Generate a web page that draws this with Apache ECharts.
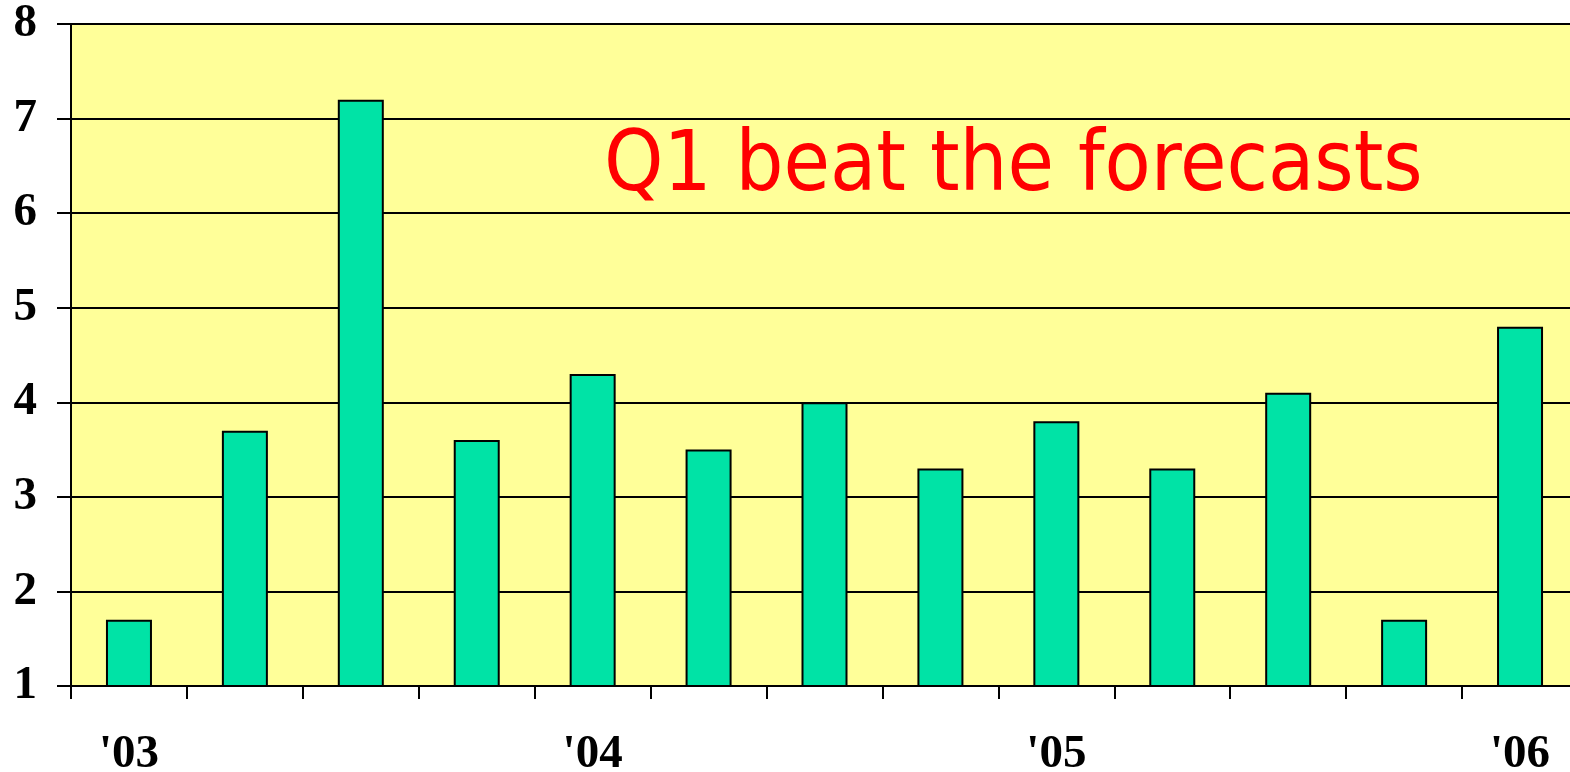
<!DOCTYPE html>
<html>
<head>
<meta charset="utf-8">
<script src="https://cdn.jsdelivr.net/npm/echarts@6/dist/echarts.min.js"></script>
<style>
  html, body { margin: 0; padding: 0; background: #ffffff; overflow: hidden; }
  /* plot area runs a few px past the right edge of the window */
  #chart { width: 1580px; height: 772px; }
</style>
</head>
<body>
<div id="chart"></div>
<script>
// quarterly values, Q1 2003 .. Q1 2006
const quarters = ["'03", "", "", "", "'04", "", "", "", "'05", "", "", "", "'06"];
const values = [1.7, 3.7, 7.2, 3.6, 4.3, 3.5, 4.0, 3.3, 3.8, 3.3, 4.1, 1.7, 4.8];
const yTicks = [1, 8, 1]; // min, max, interval
const note = "Q1 beat the forecasts";

const chart = echarts.init(document.getElementById("chart"));

const axisFont = {
    fontFamily: "Liberation Serif",
    fontWeight: "bold",
    fontSize: 47,
    color: "#000"
};

chart.setOption({
    animation: false,
    grid: {
        left: 71,
        right: 2,
        top: 24,
        bottom: 86,
        outerBoundsMode: "none",
        show: true,
        backgroundColor: "#ffff99",
        borderWidth: 0
    },
    xAxis: {
        type: "category",
        data: quarters,
        boundaryGap: true,
        axisLine: { lineStyle: { color: "#000", width: 2 } },
        axisTick: { show: true, interval: 0, length: 13, lineStyle: { color: "#000", width: 2 } },
        axisLabel: { ...axisFont, interval: 0, margin: 45 }
    },
    yAxis: {
        type: "value",
        min: yTicks[0],
        max: yTicks[1],
        interval: yTicks[2],
        axisLine: { show: true, lineStyle: { color: "#000", width: 2 } },
        axisTick: { show: true, length: 14, lineStyle: { color: "#000", width: 2 } },
        axisLabel: { ...axisFont, margin: 34 },
        splitLine: { lineStyle: { color: "#000", width: 2 } }
    },
    series: [
        {
            type: "bar",
            data: values,
            barWidth: 46,
            itemStyle: { color: "#00e3a6", borderColor: "#000", borderWidth: 2 }
        }
    ],
    graphic: [
        {
            type: "text",
            left: 604,
            top: 126,
            style: {
                text: note,
                fill: "#ff0000",
                font: "84px 'DejaVu Sans Condensed'"
            }
        }
    ]
});
</script>
</body>
</html>
